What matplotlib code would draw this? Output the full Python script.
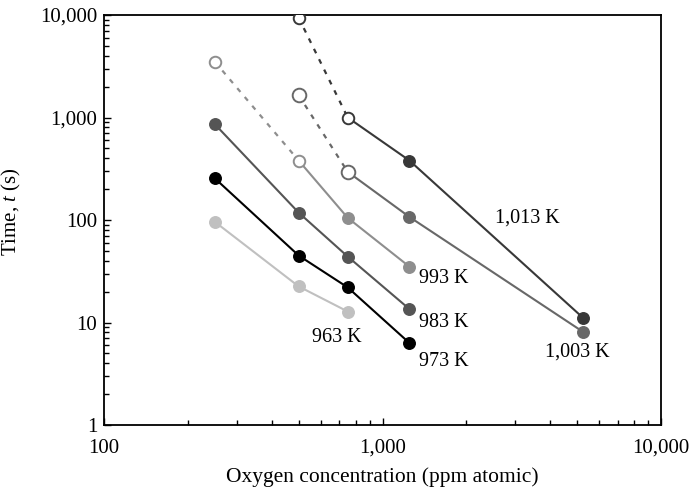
import matplotlib
matplotlib.use("Agg")
import matplotlib.pyplot as plt
from matplotlib.ticker import FuncFormatter, LogLocator

plt.rcParams['font.family'] = ['Liberation Serif', 'DejaVu Serif']
plt.rcParams['mathtext.fontset'] = 'custom'
plt.rcParams['mathtext.it'] = 'Liberation Serif:italic'
plt.rcParams['mathtext.rm'] = 'Liberation Serif'

# Oxygen concentration (ppm atomic) and time (s) per temperature
conc_963 = [250, 500, 750]
time_963 = [96, 22.5, 12.8]

conc_973 = [250, 500, 750, 1250]
time_973 = [255, 45, 22, 6.3]

conc_983 = [250, 500, 750, 1250]
time_983 = [860, 118, 44, 13.5]

conc_993 = [250, 500, 750, 1250]
time_993 = [3500, 380, 105, 35]

conc_1003 = [500, 750, 1250, 5250]
time_1003 = [1650, 295, 107, 8.1]

conc_1013 = [500, 750, 1250, 5250]
time_1013 = [9400, 1000, 380, 11.1]

# number of leading open (extrapolated) points in each series
open_993 = 2
open_1003 = 2
open_1013 = 2

fig = plt.figure(figsize=(6.9, 4.92), dpi=100)
ax = fig.add_axes([104 / 690, 1 - 425 / 492, (661 - 104) / 690, (425 - 15) / 492])

series = [
    (conc_963, time_963, 0, '#c0c0c0', 8.3),
    (conc_973, time_973, 0, '#000000', 8.3),
    (conc_983, time_983, 0, '#555555', 8.3),
    (conc_993, time_993, open_993, '#8e8e8e', 8.3),
    (conc_1003, time_1003, open_1003, '#686868', 9.8),
    (conc_1013, time_1013, open_1013, '#383838', 8.3),
]

for conc, t, n_open, col, open_size in series:
    if n_open > 0:
        ax.plot(conc[:n_open], t[:n_open], color=col, lw=1.6,
                ls=(0, (2.2, 3.0)), zorder=2)
        ax.plot(conc[n_open - 1:], t[n_open - 1:], color=col, lw=1.5, zorder=2)
        ax.plot(conc[:n_open], t[:n_open], ls='none', marker='o',
                ms=open_size, mfc='white', mec=col, mew=1.4, zorder=3)
    else:
        ax.plot(conc, t, color=col, lw=1.5, zorder=2)
    ax.plot(conc[n_open:], t[n_open:], ls='none', marker='o', ms=8.3,
            mfc=col, mec=col, zorder=3)

ax.set_xscale('log')
ax.set_yscale('log')
ax.set_xlim(100, 10000)
ax.set_ylim(1, 10000)

fmt = FuncFormatter(lambda v, p: f"{int(round(v)):,}")
ax.xaxis.set_major_locator(LogLocator(base=10))
ax.yaxis.set_major_locator(LogLocator(base=10))
ax.xaxis.set_major_formatter(fmt)
ax.yaxis.set_major_formatter(fmt)
ax.tick_params(which='both', direction='in', top=False, right=False, width=1.0)
ax.tick_params(which='major', length=5, labelsize=15)
ax.tick_params(which='minor', length=3.5)
ax.tick_params(axis='x', which='major', pad=10)
ax.tick_params(axis='y', which='major', pad=5)

for sp in ax.spines.values():
    sp.set_linewidth(1.3)

ax.set_xlabel("Oxygen concentration (ppm atomic)", fontsize=15.5, labelpad=7)
ax.set_ylabel("Time, $\\it{t}$ (s)", fontsize=15)
ax.yaxis.set_label_coords(-0.145, 0.52)

ax.text(687, 7.2, "963 K", fontsize=14.5, ha='center', va='center')
ax.text(1663, 4.12, "973 K", fontsize=14.5, ha='center', va='center')
ax.text(1663, 10.1, "983 K", fontsize=14.5, ha='center', va='center')
ax.text(1663, 26.6, "993 K", fontsize=14.5, ha='center', va='center')
ax.text(3304, 104.6, "1,013 K", fontsize=14.5, ha='center', va='center')
ax.text(4991, 5.15, "1,003 K", fontsize=14.5, ha='center', va='center')

fig.savefig("out.png", dpi=100)
